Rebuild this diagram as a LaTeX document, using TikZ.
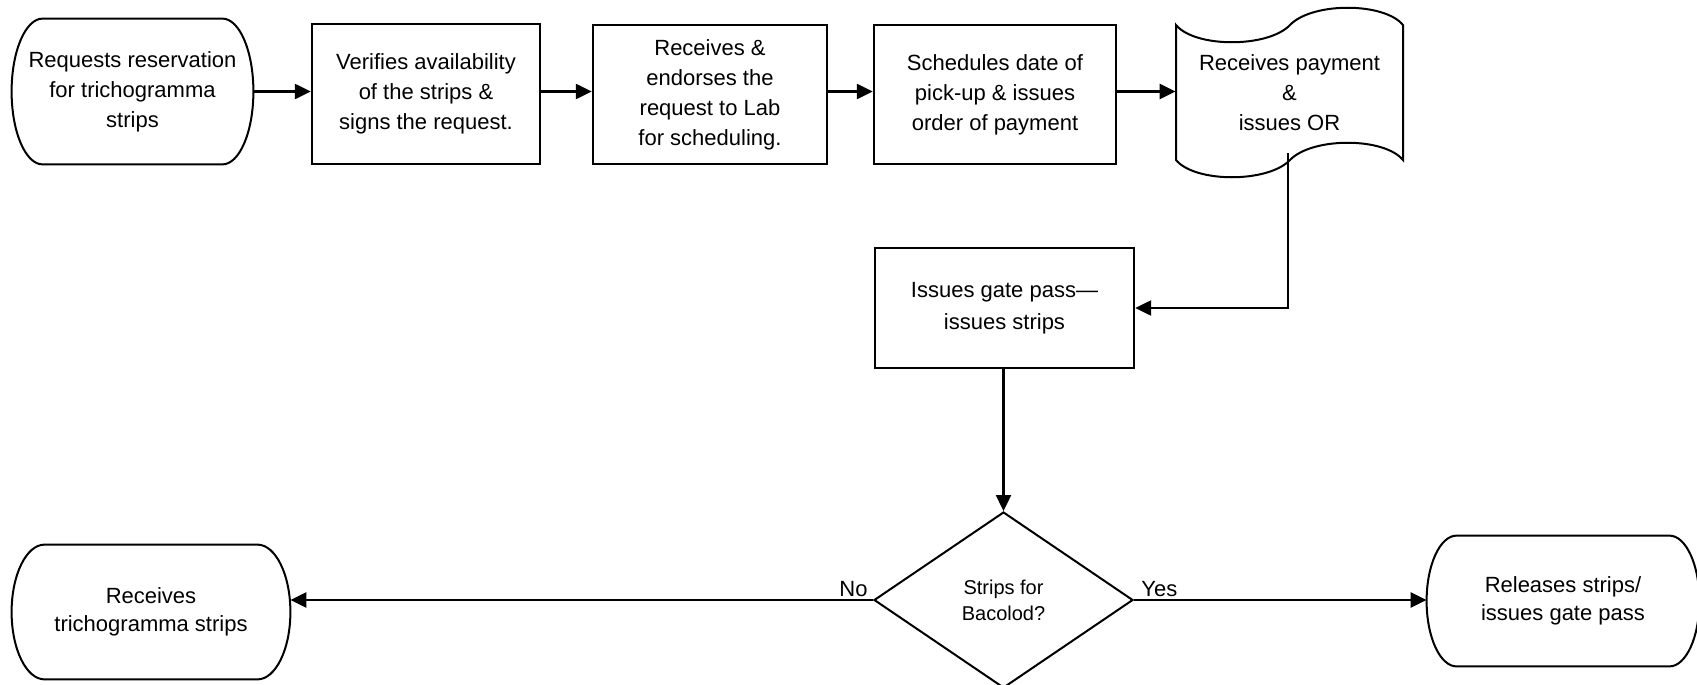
\documentclass[tikz,border=0pt]{standalone}
\usepackage{fontspec}
\setmainfont{Liberation Sans}
\usetikzlibrary{arrows.meta,shapes.geometric,calc}
\newcommand\termoutline[2]{%
  \draw[tline] let \p1=(#1.north west), \p2=(#1.south east) in
    ({\x1+#2},\y1) -- ({\x2-#2},\y1)
    .. controls ({\x2-0.4477*#2},\y1) and (\x2,{\y1-0.22385*(\y1-\y2)}) .. (\x2,{0.5*(\y1+\y2)})
    .. controls (\x2,{\y2+0.22385*(\y1-\y2)}) and ({\x2-0.4477*#2},\y2) .. ({\x2-#2},\y2)
    -- ({\x1+#2},\y2)
    .. controls ({\x1+0.4477*#2},\y2) and (\x1,{\y2+0.22385*(\y1-\y2)}) .. (\x1,{0.5*(\y1+\y2)})
    .. controls (\x1,{\y1-0.22385*(\y1-\y2)}) and ({\x1+0.4477*#2},\y1) .. ({\x1+#2},\y1)
    -- cycle;}
\begin{document}
\begin{tikzpicture}[x=0.5pt,y=-0.5pt,
  box/.style={draw, line width=1.2pt, rectangle, inner sep=0pt, align=center, font=\fontsize{11}{15}\selectfont},
  plain/.style={inner sep=0pt, align=center, font=\fontsize{11}{15}\selectfont},
  tline/.style={line width=1pt},
  arr/.style={line width=1.2pt, -{Triangle[length=8pt,width=7.5pt]}},
  lbl/.style={inner sep=0pt, font=\fontsize{11}{13}\selectfont},
  dia/.style={draw, diamond, line width=1pt, inner sep=0pt, align=center, font=\fontsize{10}{13}\selectfont}
]
\fill[white] (0,0) rectangle (1697,685);
\useasboundingbox (0,0) rectangle (1697,685);

\node[plain, minimum width=120.5pt, minimum height=72.5pt] (t1) at (132.5,91.5) {Requests reservation\\for trichogramma\\strips};
\node[box, minimum width=114pt, minimum height=70pt] (b2) at (426,94) {Verifies availability\\of the strips \&\\signs the request.};
\node[box, minimum width=117pt, minimum height=69.5pt] (b3) at (710,94.5) {Receives \&\\endorses the\\request to Lab\\for scheduling.};
\node[box, minimum width=121pt, minimum height=69.5pt] (b4) at (995,94.5) {Schedules date of\\pick-up \& issues\\order of payment};
\node[plain, minimum width=113.5pt, minimum height=67.5pt] (doc) at (1289.5,92.5) {Receives payment\\\&\\issues OR};
\node[box, minimum width=129.5pt, minimum height=60pt, font=\fontsize{11}{16}\selectfont] (b5) at (1004.5,308) {Issues gate pass—\\issues strips};
\node[dia, minimum width=129.5pt, minimum height=88pt] (d) at (1003.5,600) {Strips for\\Bacolod?};
\node[plain, minimum width=139pt, minimum height=67pt, font=\fontsize{11}{14}\selectfont] (tl) at (151,612) {Receives\\trichogramma strips};
\node[plain, minimum width=136pt, minimum height=65pt, font=\fontsize{11}{14}\selectfont] (tr) at (1563,601) {Releases strips/\\issues gate pass};

\termoutline{t1}{15.5pt}
\termoutline{tl}{16.5pt}
\termoutline{tr}{15pt}
\draw[tline] (1176,25) .. controls (1195,48) and (1268,48) .. (1290,25)
  .. controls (1312,2) and (1384,2) .. (1403,25) -- (1403,160)
  .. controls (1384,137) and (1312,137) .. (1290,160)
  .. controls (1268,183) and (1195,183) .. (1176,160) -- cycle;

\draw[arr] (t1.east) -- (t1.east -| b2.west);
\draw[arr] (b2.east |- t1.east) -- (t1.east -| b3.west);
\draw[arr] (b3.east |- t1.east) -- (t1.east -| b4.west);
\draw[arr] (b4.east |- t1.east) -- (t1.east -| doc.west);
\coordinate (docout) at (1288,153);
\draw[arr] (docout) |- (b5.east);
\draw[arr] (b5.south -| d.north) -- (d.north);
\draw[arr] (d.west) -- (d.west -| tl.east);
\draw[arr] (d.east) -- (d.east -| tr.west);

\node[lbl, anchor=base east] (no) at (868,596) {No};
\node[lbl, anchor=base west] (yes) at (1141,596) {Yes};
\end{tikzpicture}
\end{document}
